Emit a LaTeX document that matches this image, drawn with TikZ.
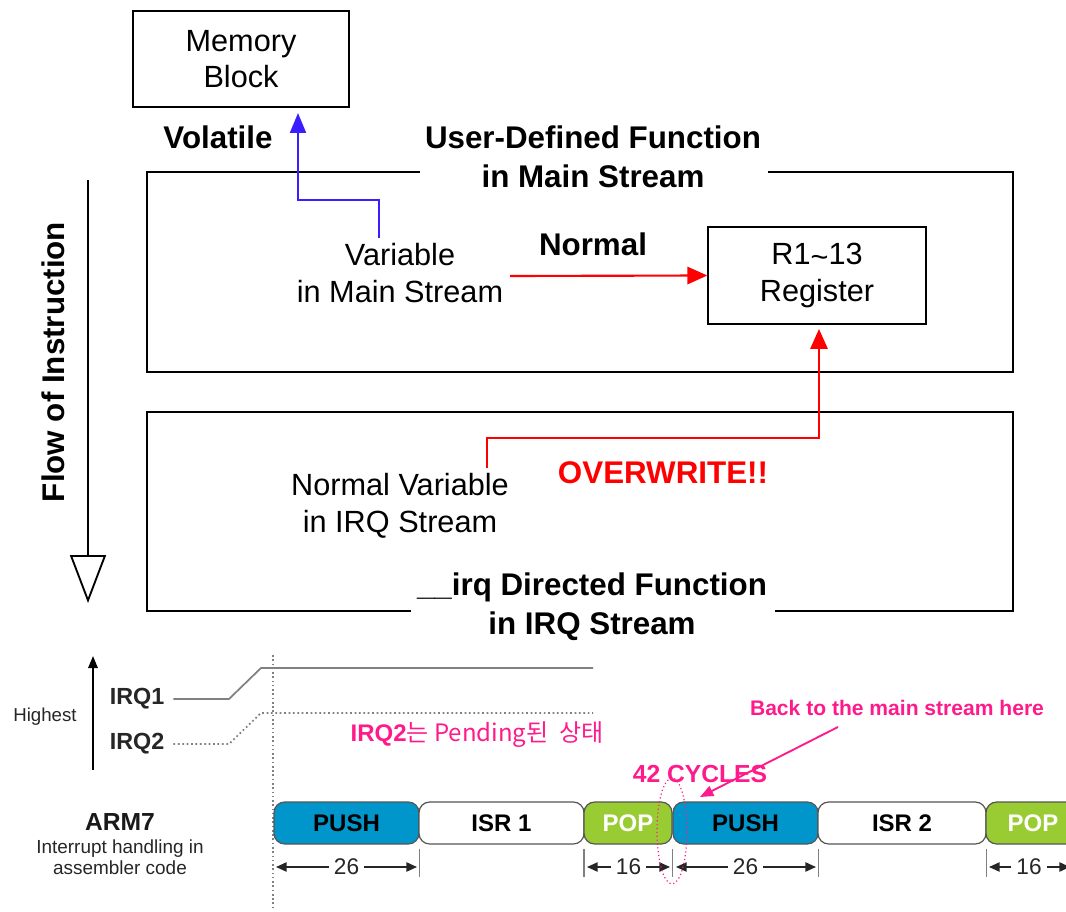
\documentclass[tikz,border=0pt]{standalone}
\usepackage{fontspec}
\setmainfont{Liberation Sans}
\newfontfamily\kofont{Noto Sans CJK KR}
\usetikzlibrary{arrows.meta,shapes.geometric}
\definecolor{pinkc}{HTML}{FF1A8C}
\definecolor{bluearr}{HTML}{3B1EFF}
\definecolor{pushblue}{HTML}{0096CC}
\definecolor{popgreen}{HTML}{99CC33}
\definecolor{redc}{HTML}{FF0000}
\definecolor{grayl}{HTML}{808080}
\definecolor{segedge}{HTML}{555555}
\begin{document}
\begin{tikzpicture}[x=0.75pt,y=-0.75pt,
  bigtxt/.style={font=\fontsize{23}{27.5}\selectfont, align=center, inner sep=0pt},
  bigbold/.style={font=\fontsize{23.5}{29}\selectfont\bfseries, align=center, inner sep=0pt},
  framebox/.style={draw, line width=1.5pt, inner sep=0pt},
  framepath/.style={draw, line width=1.6pt},
  bluecon/.style={draw=bluearr, line width=1.6pt, -{Triangle[length=15pt,width=12pt]}},
  redcon/.style={draw=redc, line width=1.6pt, -{Triangle[length=15pt,width=13pt]}},
  seg/.style={draw=segedge, line width=0.9pt, rounded corners=8pt, minimum height=31.5pt, inner sep=0pt, font=\fontsize{18}{20}\selectfont\bfseries},
  dimnum/.style={font=\fontsize{17}{18}\selectfont, text=black!85, inner sep=0pt, inner xsep=3.5pt},
  dimarrow/.style={draw=black!85, line width=1.1pt, -{Triangle[length=8pt,width=7pt]}},
  tickline/.style={draw=grayl, line width=0.6pt},
  lbl/.style={inner sep=0pt},
  pinktxt/.style={text=pinkc, inner sep=0pt}
]
\useasboundingbox (0,0) rectangle (1066,912);

% ---- top part ----
\node[framebox, bigtxt, minimum width=162pt, minimum height=72pt] (mem) at (241,59) {Memory\\Block};
\node[bigbold] (vol) at (218,137) {Volatile};

\node[bigbold] (ut) at (593,157) {User-Defined Function\\in Main Stream};
\draw[framepath] (420,172) -- (147,172) -- (147,372) -- (1013,372) -- (1013,172) -- (768,172);

\node[framebox, bigtxt, minimum width=163pt, minimum height=72.75pt] (reg) at (817,275.5) {R1\raisebox{-0.08em}{\char`\~}13\\Register};
\node[bigtxt] (var) at (400,273) {Variable\\in Main Stream};
\node[bigbold] (norm) at (593,244) {Normal};

\coordinate (vtop) at (379,238);
\draw[bluecon] (vtop) -- (379,200) -- (298,200) -- ([shift={(57,5)}]mem.south);
\coordinate (vright) at (510,276);
\draw[redcon] (vright) -- (reg.west);

% lower box
\node[bigbold] (lt) at (592,607) {\_\_irq Directed Function\\in IRQ Stream};
\draw[framepath] (411,611) -- (147,611) -- (147,412) -- (1013,412) -- (1013,611) -- (775,611);
\node[bigtxt] (nvar) at (400,506) {Normal Variable\\in IRQ Stream};
\node[bigbold, text=redc] (ow) at (663,473) {OVERWRITE!!};
\coordinate (nvtop) at (487,468);
\draw[redcon] (nvtop) -- (487,438) -- (819,438) -- ([shift={(2,4)}]reg.south);

% flow of instruction
\node[bigbold, rotate=90] (flow) at (53,362) {Flow of Instruction};
\coordinate (flowtop) at (88,180);
\coordinate (flowend) at (88,603);
\draw[line width=1.4pt, -{Triangle[open,length=36pt,width=27pt,line width=1.4pt]}] (flowtop) -- (flowend);

% ---- bottom part ----
\coordinate (upbot) at (93,770);
\coordinate (uptop) at (93,656);
\draw[line width=1.5pt, -{Triangle[length=9pt,width=7pt]}] (upbot) -- (uptop);
\node[lbl, font=\fontsize{14}{16}\selectfont, text=black!85] (hi) at (45,717) {Highest};
\node[lbl, font=\fontsize{17.5}{20}\selectfont\bfseries, text=black!85] (irq1) at (137,699) {IRQ1};
\node[lbl, font=\fontsize{17.5}{20}\selectfont\bfseries, text=black!85] (irq2) at (137,744) {IRQ2};
\draw[grayl, line width=1.3pt] ([shift={(9,0)}]irq1.east) -- (229,699) -- (261,668) -- (593,668);
\draw[grayl, line width=1.3pt, dotted] ([shift={(9,0)}]irq2.east) -- (229,744) -- (261,713) -- (593,713);
\draw[grayl, line width=1.2pt, dotted] (273,655) -- (273,908);

\node[pinktxt, font=\fontsize{18}{20}\selectfont] (pend) at (477,735) {\bfseries IRQ2\kofont\mdseries 는 Pending된\ \ 상태};

\node[lbl, font=\fontsize{18.5}{20}\selectfont\bfseries, text=black!90] (arm) at (120,822) {ARM7};
\node[lbl, font=\fontsize{14.2}{15.8}\selectfont, text=black!85, align=center] (ih) at (120,857) {Interrupt handling in\\assembler code};

% segments
\node[seg, fill=pushblue, minimum width=108.75pt] (push1) at (346.5,823) {PUSH};
\node[seg, fill=white, minimum width=123.75pt] (isr1) at (501.5,823) {ISR 1};
\node[seg, fill=popgreen, text=white, minimum width=66pt] (pop1) at (628,823) {POP};
\node[seg, fill=pushblue, minimum width=108.75pt] (push2) at (745.5,823) {PUSH};
\node[seg, fill=white, minimum width=126pt] (isr2) at (902,823) {ISR 2};
\node[seg, fill=popgreen, text=white, minimum width=70.5pt] (pop2) at (1033,823) {POP};

% ticks
\foreach \n in {push1,isr1,pop1,push2,isr2} {
  \draw[tickline] ([shift={(0,4)}]\n.south east) -- ++(0,28);
}
\draw[tickline] ([shift={(0,4)}]pop1.south west) -- ++(0,28);

% dimensions
\node[dimnum] (d1) at (346.5,867) {26};
\draw[dimarrow] (d1.west) -- (276,867);
\draw[dimarrow] (d1.east) -- (417,867);
\node[dimnum] (d2) at (628.5,867) {16};
\draw[dimarrow] (d2.west) -- (587,867);
\draw[dimarrow] (d2.east) -- (670,867);
\node[dimnum] (d3) at (745.5,867) {26};
\draw[dimarrow] (d3.west) -- (676,867);
\draw[dimarrow] (d3.east) -- (816,867);
\node[dimnum] (d4) at (1029,867) {16};
\draw[dimarrow] (d4.west) -- (989,867);
\draw[dimarrow] (d4.east) -- (1070,867);

% pink annotations
\node[draw=pinkc, dotted, line width=0.9pt, ellipse, minimum width=22.5pt, minimum height=79.5pt, inner sep=0pt] (cyc) at (672,831) {};
\node[pinktxt, font=\fontsize{18.5}{20}\selectfont\bfseries] (c42) at (700,774) {42 CYCLES};
\node[pinktxt, font=\fontsize{15.8}{18}\selectfont\bfseries] (back) at (897,708) {Back to the main stream here};
\coordinate (backtail) at (838,727);
\coordinate (backtip) at (700,797);
\draw[draw=pinkc, line width=1.4pt, -{Triangle[length=10pt,width=8pt]}] (backtail) -- (backtip);
\end{tikzpicture}
\end{document}
